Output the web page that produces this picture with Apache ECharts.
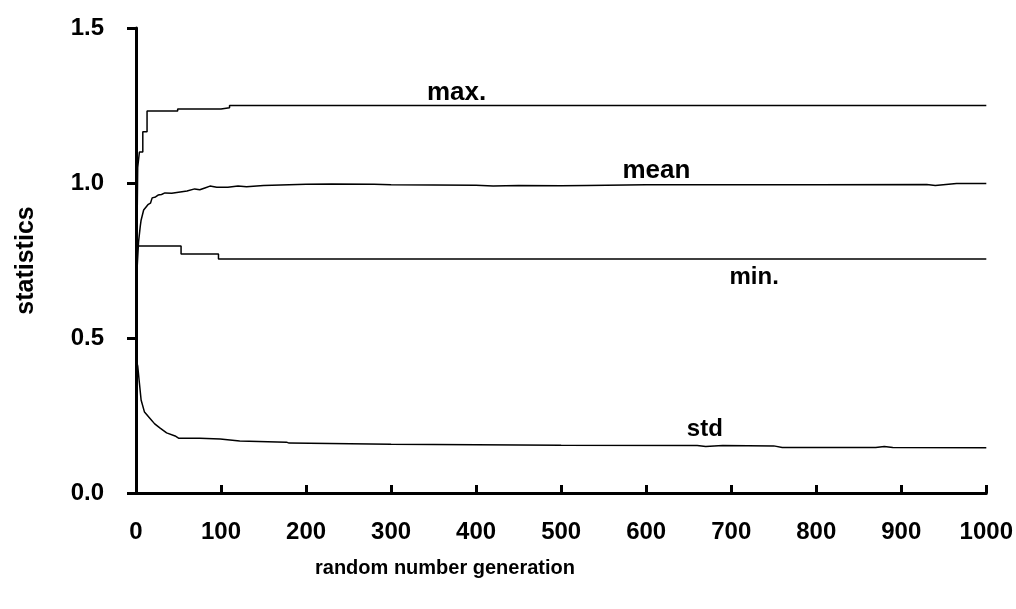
<!DOCTYPE html>
<html>
<head>
<meta charset="utf-8">
<script src="https://cdn.jsdelivr.net/npm/echarts@6/dist/echarts.min.js"></script>
<style>
  html, body { margin: 0; padding: 0; background: #fff; }
  #chart { width: 1016px; height: 609px; }
</style>
</head>
<body>
<div id="chart"></div>
<script>
var chart = echarts.init(document.getElementById('chart'));

// values: [generation, statistic]
var maxData = [[1, 0.80], [2, 1.05], [4, 1.10], [8, 1.165], [13, 1.232], [49, 1.239], [100, 1.243], [110, 1.25], [1000, 1.25]];
var minData = [[1, 0.797], [53, 0.771], [97, 0.755], [1000, 0.755]];
var meanData = [[1, 0.71], [3, 0.81], [5, 0.86], [6, 0.88], [9, 0.913], [11, 0.91], [14, 0.93], [17, 0.935],
  [19, 0.952], [23, 0.955], [26, 0.961], [30, 0.963], [34, 0.968], [42, 0.967], [52, 0.971], [60, 0.974],
  [69, 0.981], [75, 0.978], [81, 0.984], [87, 0.99], [95, 0.986], [108, 0.986], [120, 0.99], [130, 0.988],
  [150, 0.992], [200, 0.996], [230, 0.997], [280, 0.996], [300, 0.994], [400, 0.993], [420, 0.99],
  [450, 0.992], [500, 0.991], [530, 0.992], [600, 0.994], [800, 0.994], [930, 0.995], [940, 0.992],
  [965, 0.998], [1000, 0.998]];
var stdData = [[1, 0.42], [2, 0.41], [4, 0.355], [6, 0.30], [10, 0.261], [16, 0.242], [22, 0.223], [28, 0.21],
  [36, 0.194], [46, 0.184], [50, 0.177], [75, 0.177], [99, 0.174], [122, 0.168], [177, 0.164], [180, 0.161],
  [300, 0.157], [500, 0.154], [660, 0.153], [670, 0.150], [690, 0.153], [750, 0.152], [760, 0.147],
  [870, 0.147], [880, 0.150], [890, 0.147], [1000, 0.146]];

// series captions, placed in data coordinates
var captions = [
  { name: 'max.', value: [377, 1.29], size: 26 },
  { name: 'mean', value: [612, 1.04], size: 26 },
  { name: 'min.', value: [727, 0.694], size: 24 },
  { name: 'std', value: [669, 0.206], size: 24 }
];

var font = 'Liberation Sans, Arial, sans-serif';
var lineStyle = { color: '#000', width: 1.5 };

var option = {
  animation: false,
  backgroundColor: '#fff',
  grid: { left: 136, right: 29, top: 28, bottom: 116 },
  xAxis: {
    type: 'value',
    min: 0, max: 1000, interval: 100,
    axisLine: { lineStyle: { color: '#000', width: 3 } },
    axisTick: { inside: true, length: 8, lineStyle: { color: '#000', width: 3 } },
    axisLabel: {
      margin: 27, color: '#000', fontSize: 24, fontWeight: 'bold', fontFamily: font,
      formatter: function (v) { return String(v); }
    },
    splitLine: { show: false }
  },
  yAxis: {
    type: 'value',
    min: 0, max: 1.5, interval: 0.5,
    name: 'statistics',
    nameLocation: 'middle',
    nameGap: 97,
    nameTextStyle: { color: '#000', fontSize: 25, fontWeight: 'bold', fontFamily: font },
    axisLine: { show: true, lineStyle: { color: '#000', width: 3 } },
    axisTick: { show: true, length: 9, lineStyle: { color: '#000', width: 3 } },
    axisLabel: {
      margin: 32, color: '#000', fontSize: 24, fontWeight: 'bold', fontFamily: font,
      formatter: function (v) { return v.toFixed(1); }
    },
    splitLine: { show: false }
  },
  graphic: [{
    type: 'text',
    x: 445, y: 568,
    style: {
      text: 'random number generation', fill: '#000', font: 'bold 20px ' + font,
      textAlign: 'center', textVerticalAlign: 'middle'
    }
  }],
  series: [
    { type: 'line', data: maxData, step: 'end', showSymbol: false, lineStyle: lineStyle, z: 3 },
    { type: 'line', data: minData, step: 'end', showSymbol: false, lineStyle: lineStyle, z: 3 },
    { type: 'line', data: meanData, showSymbol: false, lineStyle: lineStyle, z: 3 },
    { type: 'line', data: stdData, showSymbol: false, lineStyle: lineStyle, z: 3 },
    {
      type: 'scatter', symbolSize: 0,
      itemStyle: { opacity: 1, color: '#000' },
      data: captions.map(function (c) {
        return {
          name: c.name, value: c.value,
          label: { fontSize: c.size, color: '#000' }
        };
      }),
      label: {
        show: true, position: 'inside', formatter: '{b}',
        color: '#000', fontWeight: 'bold', fontFamily: font
      }
    }
  ]
};

chart.setOption(option);
</script>
</body>
</html>
